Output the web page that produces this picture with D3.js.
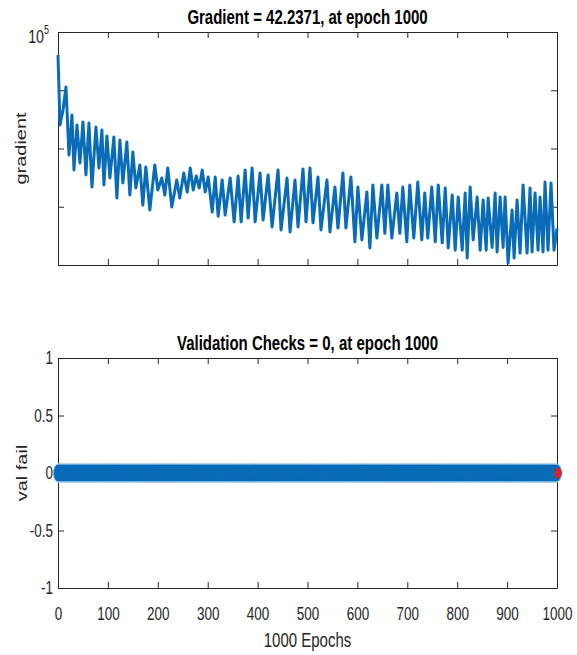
<!DOCTYPE html>
<html>
<head>
<meta charset="utf-8">
<script src="https://cdn.jsdelivr.net/npm/d3@7"></script>
<style>
  html, body { margin: 0; padding: 0; background: #fff; }
  svg { display: block; }
</style>
</head>
<body>
<svg id="chart" width="577" height="655"></svg>
<script>
// ---- training record: gradient magnitude per epoch (turning points of the curve) ----
const epochs = [
  0, 4, 10, 16, 22, 28, 32, 38, 44, 50, 56, 62, 68, 76, 82, 88, 92, 98, 104, 112,
  118, 124, 130, 138, 144, 150, 156, 164, 170, 176, 184, 194, 200, 208, 214, 220, 228, 238, 244, 252,
  259, 265, 271, 277, 283, 289, 295, 301, 309, 315, 321, 329, 335, 345, 353, 361, 367, 375, 381, 389,
  395, 405, 411, 421, 429, 441, 447, 459, 465, 475, 481, 491, 497, 505, 511, 521, 527, 539, 545, 555,
  561, 571, 577, 587, 595, 601, 609, 619, 625, 631, 639, 649, 655, 661, 669, 679, 685, 691, 699, 705,
  713, 721, 729, 735, 741, 749, 756, 762, 770, 776, 782, 790, 796, 802, 810, 816, 820, 826, 832, 840,
  846, 852, 858, 862, 870, 876, 880, 886, 892, 896, 902, 910, 914, 920, 926, 932, 940, 946, 950, 956,
  962, 966, 972, 976, 982, 988, 994, 1000
];
const gradient = [
  40300, 2530, 4580, 11400, 773, 3760, 428, 2530, 564, 2850, 351, 2740, 218, 2340, 463, 2080, 236, 1640, 312, 1570,
  141, 1400, 256, 1290, 159, 871, 210, 521, 107, 481, 88, 521, 194, 312, 159, 463, 99, 288, 141, 380,
  179, 463, 194, 337, 210, 428, 179, 324, 81, 324, 69, 288, 72, 312, 55, 337, 55, 428, 64, 463,
  55, 380, 59, 351, 45, 428, 40, 312, 37, 288, 45, 445, 55, 463, 53, 324, 40, 288, 37, 218,
  43, 380, 43, 324, 25, 218, 27, 179, 19.6, 236, 29, 236, 35, 236, 29, 172, 35, 218, 25, 236,
  29, 266, 27, 172, 29, 218, 25, 236, 24, 210, 19.6, 159, 18, 147, 18, 172, 13.2, 218, 27, 147,
  18, 131, 18, 141, 20, 172, 16.7, 147, 20, 147, 10.8, 88, 13.2, 131, 16, 236, 16, 210, 16.7, 172,
  18, 147, 16.7, 266, 18, 256, 18, 42.2371
];

// ---- validation failures: none at any epoch ----
const valEpochs = d3.range(0, 1001);
const valFail = valEpochs.map(() => 0);
const bestEpoch = 1000;
const bestValFail = 0;

// ---- axis ticks and text ----
const epochTicks = [0, 100, 200, 300, 400, 500, 600, 700, 800, 900, 1000];
const gradientTicks = [10, 100, 1000, 10000, 100000];
const valFailTicks = [-1, -0.5, 0, 0.5, 1];
const gradientTitle = "Gradient = 42.2371, at epoch 1000";
const valTitle = "Validation Checks = 0, at epoch 1000";
const gradientLabel = "gradient";
const valLabel = "val fail";
const epochLabel = "1000 Epochs";

// ---- styling ----
const FONT = "'Liberation Sans', Arial, Helvetica, sans-serif";
const SQ = 0.75;            // horizontal condensing of all glyphs
const AXIS_COLOR = "#262626";
const LINE_BLUE = "#0a6cb8";
const EDGE_BLUE = "#9ccdef";
const TICK_LEN = 6;

const svg = d3.select("#chart");

const left = 58, right = 557;
const top1 = 32, bottom1 = 265;
const top2 = 358, bottom2 = 588;

const x = d3.scaleLinear().domain([0, 1000]).range([left, right]);
const yGrad = d3.scaleLog().domain([10, 1e5]).range([bottom1, top1]);
const yVal = d3.scaleLinear().domain([-1, 1]).range([bottom2, top2]);

function styleAxis(g) {
  g.selectAll("path.domain").attr("stroke", AXIS_COLOR).attr("stroke-width", 1);
  g.selectAll(".tick line").attr("stroke", AXIS_COLOR).attr("stroke-width", 1);
  g.selectAll(".tick text")
    .attr("font-family", FONT)
    .attr("font-size", 18)
    .attr("fill", AXIS_COLOR);
}

// ================= gradient panel =================
const p1 = svg.append("g");

p1.append("g").attr("transform", `translate(0,${bottom1})`)
  .call(d3.axisBottom(x).tickValues(epochTicks).tickSizeInner(-TICK_LEN).tickSizeOuter(0).tickFormat(""))
  .call(styleAxis);
p1.append("g").attr("transform", `translate(0,${top1})`)
  .call(d3.axisTop(x).tickValues(epochTicks).tickSizeInner(-TICK_LEN).tickSizeOuter(0).tickFormat(""))
  .call(styleAxis);
p1.append("g").attr("transform", `translate(${left},0)`)
  .call(d3.axisLeft(yGrad).tickValues(gradientTicks).tickSizeInner(-TICK_LEN).tickSizeOuter(0).tickFormat(""))
  .call(styleAxis);
p1.append("g").attr("transform", `translate(${right},0)`)
  .call(d3.axisRight(yGrad).tickValues(gradientTicks).tickSizeInner(-TICK_LEN).tickSizeOuter(0).tickFormat(""))
  .call(styleAxis);

// 10^5 label at the top decade
const expLabel = p1.append("text")
  .attr("transform", `translate(${left - 9},${yGrad(1e5) + 11}) scale(${SQ},1)`)
  .attr("text-anchor", "end")
  .attr("font-family", FONT)
  .attr("font-size", 19)
  .attr("fill", AXIS_COLOR);
expLabel.append("tspan").text("10");
expLabel.append("tspan").attr("dy", -9).attr("font-size", 12).text("5");

const gradPoints = epochs.map((e, i) => ({ e, g: gradient[i] }));
p1.append("path")
  .datum(gradPoints)
  .attr("fill", "none")
  .attr("stroke", LINE_BLUE)
  .attr("stroke-width", 3)
  .attr("stroke-linejoin", "round")
  .attr("d", d3.line().x(d => x(d.e)).y(d => yGrad(d.g)));

p1.append("text")
  .attr("transform", `translate(${(left + right) / 2},${top1 - 8}) scale(${SQ},1)`)
  .attr("text-anchor", "middle")
  .attr("font-family", FONT)
  .attr("font-weight", "bold")
  .attr("font-size", 20)
  .attr("fill", "#000")
  .text(gradientTitle);

p1.append("text")
  .attr("transform", `translate(26,${(top1 + bottom1) / 2}) scale(${SQ},1) rotate(-90)`)
  .attr("text-anchor", "middle")
  .attr("font-family", FONT)
  .attr("font-size", 20)
  .attr("fill", AXIS_COLOR)
  .text(gradientLabel);

// ================= validation panel =================
const p2 = svg.append("g");

const xb = p2.append("g").attr("transform", `translate(0,${bottom2})`)
  .call(d3.axisBottom(x).tickValues(epochTicks).tickSizeInner(-TICK_LEN).tickSizeOuter(0).tickPadding(19).tickFormat(d => String(d)))
  .call(styleAxis);
xb.selectAll(".tick text").attr("transform", `scale(${SQ},1)`);

p2.append("g").attr("transform", `translate(0,${top2})`)
  .call(d3.axisTop(x).tickValues(epochTicks).tickSizeInner(-TICK_LEN).tickSizeOuter(0).tickFormat(""))
  .call(styleAxis);

const yl = p2.append("g").attr("transform", `translate(${left},0)`)
  .call(d3.axisLeft(yVal).tickValues(valFailTicks).tickSizeInner(-TICK_LEN).tickSizeOuter(0).tickFormat(d => String(d)))
  .call(styleAxis);
yl.selectAll(".tick text").attr("x", -5 / SQ).attr("transform", `scale(${SQ},1)`);

p2.append("g").attr("transform", `translate(${right},0)`)
  .call(d3.axisRight(yVal).tickValues(valFailTicks).tickSizeInner(-TICK_LEN).tickSizeOuter(0).tickFormat(""))
  .call(styleAxis);

// one marker per epoch; they overlap into a solid band with a pale rim
const valPoints = valEpochs.map((e, i) => ({ e, v: valFail[i] }));
p2.append("g")
  .selectAll("ellipse")
  .data(valPoints)
  .join("ellipse")
  .attr("cx", d => x(d.e))
  .attr("cy", d => yVal(d.v))
  .attr("rx", 5)
  .attr("ry", 9.5)
  .attr("fill", EDGE_BLUE);
p2.append("g")
  .selectAll("ellipse")
  .data(valPoints)
  .join("ellipse")
  .attr("cx", d => x(d.e))
  .attr("cy", d => yVal(d.v))
  .attr("rx", 4.3)
  .attr("ry", 8.3)
  .attr("fill", LINE_BLUE);

// best epoch marker
p2.append("ellipse")
  .attr("cx", x(bestEpoch) + 1)
  .attr("cy", yVal(bestValFail))
  .attr("rx", 3.8)
  .attr("ry", 5.5)
  .attr("fill", "#d2262e");

p2.append("text")
  .attr("transform", `translate(${(left + right) / 2},${top2 - 8}) scale(${SQ},1)`)
  .attr("text-anchor", "middle")
  .attr("font-family", FONT)
  .attr("font-weight", "bold")
  .attr("font-size", 20)
  .attr("fill", "#000")
  .text(valTitle);

p2.append("text")
  .attr("transform", `translate(27,${(top2 + bottom2) / 2}) scale(${SQ},1) rotate(-90)`)
  .attr("text-anchor", "middle")
  .attr("font-family", FONT)
  .attr("font-size", 20)
  .attr("fill", AXIS_COLOR)
  .text(valLabel);

p2.append("text")
  .attr("transform", `translate(${(left + right) / 2},647) scale(${SQ},1)`)
  .attr("text-anchor", "middle")
  .attr("font-family", FONT)
  .attr("font-size", 20)
  .attr("fill", AXIS_COLOR)
  .text(epochLabel);
</script>
</body>
</html>
